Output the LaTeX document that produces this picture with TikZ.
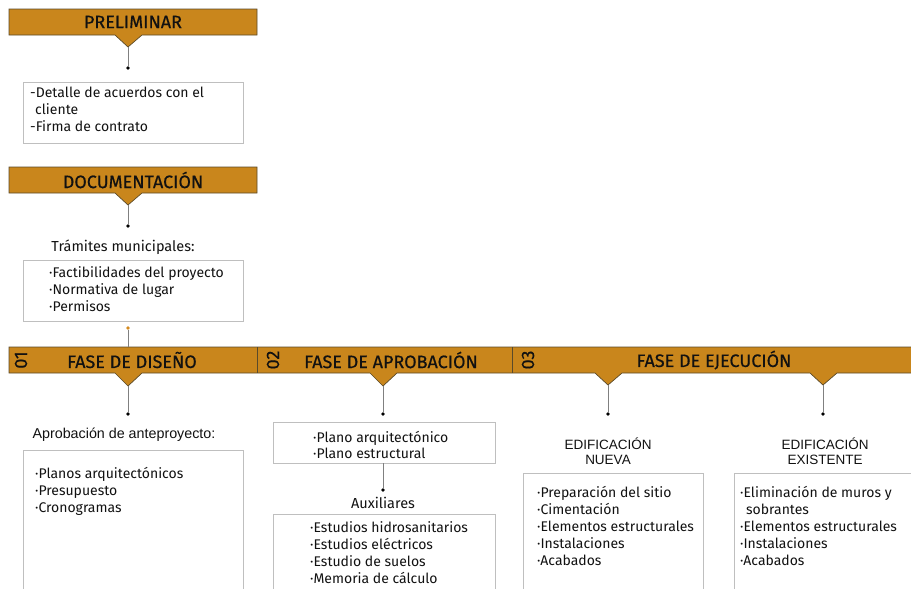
\documentclass[tikz,border=0pt]{standalone}
\usepackage{fontspec}
\setmainfont{Fira Sans}
\newfontfamily\titlef[FakeBold=0.5]{Fira Sans}
\newfontfamily\arialf{Liberation Sans}
\definecolor{bannerfill}{HTML}{C9861C}
\definecolor{bannerline}{HTML}{5A4A2A}
\definecolor{boxline}{HTML}{BFBFBF}
\definecolor{connline}{HTML}{808080}
\definecolor{txt}{HTML}{111111}
\definecolor{orangedot}{HTML}{D58A1E}
\tikzset{
  bannershape/.style={fill=bannerfill, draw=bannerline, line width=0.7pt},
  btitle/.style={font=\titlef\fontsize{18}{20}\selectfont, text=txt, inner sep=0pt},
  bnum/.style={font=\titlef\fontsize{18}{20}\selectfont, text=txt, inner sep=0pt, rotate=90},
  listbox/.style={draw=boxline, line width=0.8pt},
  listtext/.style={font=\fontsize{14}{17}\selectfont, text=txt, align=left, anchor=north west, inner sep=0pt},
  subhead/.style={font=\fontsize{14.5}{16}\selectfont, text=txt, inner sep=0pt},
  heading/.style={font=\arialf\fontsize{13.5}{15}\selectfont, text=txt, inner sep=0pt, align=center},
  conn/.style={draw=connline, line width=0.8pt},
  blackdot/.style={circle, fill=black, inner sep=0pt, minimum size=3.6pt},
}
\begin{document}
\begin{tikzpicture}[x=1pt,y=-1pt]
\useasboundingbox (0,0) rectangle (911,589);
\clip (0,0) rectangle (911,589);

% ---------- PRELIMINAR ----------
\path[bannershape] (9,9) -- (257,9) -- (257,35) -- (142,35) -- (128,47) -- (115,35) -- (9,35) -- cycle;
\node[btitle] (pre) at (133,22) {PRELIMINAR};
\coordinate (preTip) at (128,47);
\node[blackdot] (preDot) at (128,68) {};
\draw[conn] (preTip) -- (preDot);
\draw[listbox] (23,82) rectangle (243,143);
\node[listtext] (preList) at (30,86.5) {-Detalle de acuerdos con el\\\hspace*{5pt}cliente\\-Firma de contrato};

% ---------- DOCUMENTACION ----------
\path[bannershape] (9,167) -- (257,167) -- (257,193) -- (142,193) -- (128,205) -- (115,193) -- (9,193) -- cycle;
\node[btitle] (doc) at (133,180) {DOCUMENTACIÓN};
\coordinate (docTip) at (128,205);
\node[blackdot] (docDot) at (128,226) {};
\draw[conn] (docTip) -- (docDot);
\node[subhead] (tram) at (123,247) {Trámites municipales:};
\draw[listbox] (23,260) rectangle (243,321);
\node[listtext] (docList) at (49,266.5) {·Factibilidades del proyecto\\·Normativa de lugar\\·Permisos};
\node[circle, fill=orangedot, inner sep=0pt, minimum size=3.6pt] (orDot) at (128,328) {};

% ---------- PHASE BAR ----------
\path[bannershape] (9,347) -- (920,347) -- (920,373) -- (837,373) -- (823,385) -- (810,373)
  -- (622,373) -- (608,385) -- (595,373) -- (397,373) -- (383,386) -- (370,373)
  -- (142,373) -- (128,386) -- (115,373) -- (9,373) -- cycle;
\draw[bannerline, line width=0.7pt] (257,347) -- (257,373);
\draw[bannerline, line width=0.7pt] (512,347) -- (512,373);
\node[bnum] (n1) at (21,360) {01};
\node[bnum] (n2) at (273,360) {02};
\node[bnum] (n3) at (528,360) {03};
\node[btitle] (fd) at (132,360) {FASE DE DISEÑO};
\node[btitle] (fa) at (391,360) {FASE DE APROBACIÓN};
\node[btitle] (fe) at (714,360) {FASE DE EJECUCIÓN};
\coordinate (barTop) at (128,347);
\draw[conn] (orDot) -- (barTop);

% ---------- DISENO ----------
\coordinate (dTip) at (128,386);
\node[blackdot] (dDot) at (128,414) {};
\draw[conn] (dTip) -- (dDot);
\node[heading, font=\arialf\fontsize{14.3}{16}\selectfont] (dHead) at (124,435) {Aprobación de anteproyecto:};
\draw[listbox] (23,600) -- (23,450) -- (243,450) -- (243,600);
\node[listtext] (dList) at (35,467.5) {·Planos arquitectónicos\\·Presupuesto\\·Cronogramas};

% ---------- APROBACION ----------
\coordinate (aTip) at (383,386);
\node[blackdot] (aDot) at (383,414) {};
\draw[conn] (aTip) -- (aDot);
\node[listbox, minimum width=222, minimum height=41, inner sep=0pt] (aBox) at (384,442.5) {};
\node[listtext, font=\fontsize{14}{16}\selectfont] (aList) at (313,431.5) {·Plano arquitectónico\\·Plano estructural};
\node[blackdot] (aDot2) at (383,490) {};
\draw[conn] (aBox.south -| aDot2) -- (aDot2);
\node[subhead] (aux) at (383,503) {Auxiliares};
\draw[listbox] (273,600) -- (273,514) -- (495,514) -- (495,600);
\node[listtext] (auxList) at (310,521.5) {·Estudios hidrosanitarios\\·Estudios eléctricos\\·Estudio de suelos\\·Memoria de cálculo};

% ---------- EJECUCION ----------
\coordinate (e1Tip) at (608,385);
\node[blackdot] (e1Dot) at (608,414) {};
\draw[conn] (e1Tip) -- (e1Dot);
\node[heading] (e1Head) at (608,451) {EDIFICACIÓN\\NUEVA};
\draw[listbox] (523,600) -- (523,473) -- (703,473) -- (703,600);
\node[listtext] (e1List) at (537,486.5) {·Preparación del sitio\\·Cimentación\\·Elementos estructurales\\·Instalaciones\\·Acabados};

\coordinate (e2Tip) at (823,385);
\node[blackdot] (e2Dot) at (823,414) {};
\draw[conn] (e2Tip) -- (e2Dot);
\node[heading] (e2Head) at (825,451) {EDIFICACIÓN\\EXISTENTE};
\draw[listbox] (734,600) -- (734,473) -- (920,473);
\node[listtext] (e2List) at (740,486.5) {·Eliminación de muros y\\\hspace*{6pt}sobrantes\\·Elementos estructurales\\·Instalaciones\\·Acabados};
\end{tikzpicture}
\end{document}
